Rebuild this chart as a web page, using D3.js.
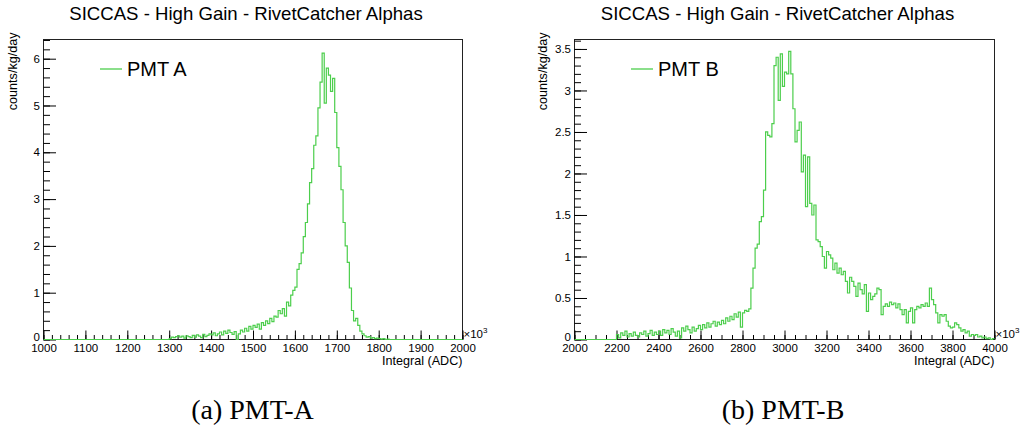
<!DOCTYPE html>
<html><head><meta charset="utf-8">
<script src="https://cdn.jsdelivr.net/npm/d3@7"></script>
<style>body{margin:0;background:#fff}svg{display:block}</style>
</head><body>
<svg id="c" width="1023" height="426"></svg>
<script>
// ---------- data ----------
const chartTitle = "SICCAS - High Gain - RivetCatcher Alphas";
const yTitle = "counts/kg/day";
const xTitle = "Integral (ADC)";
const xExponent = "3";

// Panel A (PMT A)
const legendA = "PMT A";
const captionA = "(a) PMT-A";
const xRangeA = [1000, 2000];
const binWidthA = 5;
const firstBinA = 1300;
const yMaxA = 6.41;
const xTicksA = [1000, 1100, 1200, 1300, 1400, 1500, 1600, 1700, 1800, 1900, 2000];
const yTicksA = [0, 1, 2, 3, 4, 5, 6];
const countsA = [
  0.02,0.05,0.04,0.06,0.08,0.05,0.07,0.03,0.08,0.06,
  0.04,0.09,0.05,0.10,0.07,0.04,0.11,0.06,0.09,0.12,
  0.10,0.14,0.08,0.12,0.16,0.10,0.18,0.13,0.20,0.15,
  0.11,0.17,0.00,0.12,0.20,0.16,0.24,0.18,0.28,0.22,
  0.30,0.26,0.33,0.22,0.36,0.30,0.40,0.34,0.45,0.38,
  0.50,0.48,0.62,0.55,0.66,0.50,0.80,0.72,0.95,1.05,
  1.12,1.50,1.62,1.85,2.20,2.50,2.90,3.35,3.65,4.15,
  4.35,4.95,5.50,6.12,5.05,5.80,5.65,5.30,5.58,4.85,
  4.10,3.70,3.20,2.50,2.00,1.65,1.10,0.62,0.40,0.45,
  0.30,0.18,0.12,0.08,0.05,0.06,0.03,0.04,0.02,0.03,
  0.02,0.01,0.02,0.00,0.01
];

// Panel B (PMT B)
const legendB = "PMT B";
const captionB = "(b) PMT-B";
const xRangeB = [2000, 4000];
const binWidthB = 10;
const firstBinB = 2200;
const yMaxB = 3.614;
const xTicksB = [2000, 2200, 2400, 2600, 2800, 3000, 3200, 3400, 3600, 3800, 4000];
const yTicksB = [0, 0.5, 1, 1.5, 2, 2.5, 3, 3.5];
const countsB = [
  0.06,0.02,0.08,0.05,0.10,0.03,0.07,0.04,0.09,0.05,
  0.03,0.08,0.06,0.10,0.04,0.07,0.11,0.05,0.09,0.06,
  0.10,0.05,0.12,0.08,0.11,0.06,0.13,0.09,0.04,0.10,
  0.02,0.14,0.10,0.16,0.12,0.08,0.15,0.10,0.13,0.17,
  0.12,0.18,0.14,0.20,0.15,0.19,0.22,0.16,0.21,0.18,
  0.23,0.19,0.26,0.22,0.28,0.24,0.31,0.27,0.33,0.15,
  0.32,0.35,0.34,0.37,0.62,0.86,1.10,1.15,1.42,1.48,
  1.80,2.50,2.46,2.44,2.60,3.30,3.40,2.88,3.44,3.05,
  3.22,3.20,3.47,3.20,2.78,2.38,2.52,2.62,2.02,2.22,
  1.60,2.20,1.64,1.50,1.62,1.20,1.18,1.12,1.00,0.86,
  1.06,1.02,0.98,0.84,0.92,0.80,0.86,0.78,0.82,0.70,
  0.56,0.75,0.70,0.64,0.52,0.68,0.60,0.55,0.66,0.34,
  0.56,0.48,0.52,0.55,0.62,0.60,0.30,0.40,0.43,0.40,
  0.45,0.42,0.44,0.38,0.43,0.36,0.30,0.36,0.20,0.34,
  0.38,0.20,0.36,0.40,0.38,0.42,0.40,0.44,0.40,0.62,
  0.48,0.42,0.32,0.20,0.30,0.28,0.30,0.22,0.16,0.14,
  0.15,0.20,0.18,0.14,0.10,0.12,0.08,0.10,0.04,0.06,
  0.05,0.06,0.03,0.04,0.02,0.03,0.01,0.02,0.00,0.01
];

// ---------- drawing ----------
const SANS = "'Liberation Sans', Arial, Helvetica, sans-serif";
const SERIF = "'Liberation Serif', 'Times New Roman', serif";
const GREEN = "#4cce4c";
const svg = d3.select("#c");

function panel(o) {
  const g = svg.append("g");
  const x = d3.scaleLinear().domain(o.xRange).range([o.left, o.right]);
  const y = d3.scaleLinear().domain([0, o.yMax]).range([o.bottom, o.top]);

  // title
  g.append("text").attr("x", o.titleX).attr("y", 20).attr("text-anchor", "middle")
    .attr("font-family", SANS).attr("font-size", 18.6).attr("fill", "#000").text(chartTitle);

  // frame
  g.append("rect").attr("x", o.left).attr("y", o.top)
    .attr("width", o.right - o.left).attr("height", o.bottom - o.top)
    .attr("fill", "none").attr("stroke", "#222").attr("stroke-width", 1);

  // x axis
  const xMinor = x.ticks(50);
  const xaMinor = d3.axisBottom(x).tickValues(xMinor).tickSize(-4.5).tickFormat("");
  g.append("g").attr("transform", `translate(0,${o.bottom})`).call(xaMinor)
    .call(s => s.select(".domain").remove());
  const xa = d3.axisBottom(x).tickValues(o.xTicks).tickSize(-9).tickPadding(4).tickFormat(d3.format("d"));
  g.append("g").attr("transform", `translate(0,${o.bottom})`).call(xa)
    .call(s => s.select(".domain").remove())
    .call(s => s.selectAll("text").attr("font-family", SANS).attr("font-size", 11.5).attr("fill", "#000"));

  // y axis
  const yMinor = y.ticks(o.yMinorCount);
  const yaMinor = d3.axisLeft(y).tickValues(yMinor).tickSize(-6.5).tickFormat("");
  g.append("g").attr("transform", `translate(${o.left},0)`).call(yaMinor)
    .call(s => s.select(".domain").remove());
  const ya = d3.axisLeft(y).tickValues(o.yTicks).tickSize(-12.5).tickPadding(3.5)
    .tickFormat(d3.format("~g"));
  g.append("g").attr("transform", `translate(${o.left},0)`).call(ya)
    .call(s => s.select(".domain").remove())
    .call(s => s.selectAll("text").attr("font-family", SANS).attr("font-size", 11.5).attr("fill", "#000"))
    .call(s => s.selectAll(".tick").filter(d => d === 0).select("text").attr("y", -3));

  // axis titles
  g.append("text").attr("x", o.right).attr("y", 365).attr("text-anchor", "end")
    .attr("font-family", SANS).attr("font-size", 12.6).attr("fill", "#000").text(xTitle);
  g.append("text").attr("transform", `translate(${o.yTitleX},${o.top - 7}) rotate(-90)`)
    .attr("text-anchor", "end").attr("font-family", SANS).attr("font-size", 12.6)
    .attr("fill", "#000").text(yTitle);

  // x10^3
  const ex = g.append("text").attr("x", o.right + 1).attr("y", 338)
    .attr("font-family", SANS).attr("font-size", 11.5).attr("fill", "#000");
  ex.append("tspan").text("\u00d710");
  ex.append("tspan").attr("dy", -5).attr("font-size", 8).text(xExponent);

  // histogram
  const nBins = Math.round((o.xRange[1] - o.xRange[0]) / o.binWidth);
  const startIdx = Math.round((o.firstBin - o.xRange[0]) / o.binWidth);
  const bins = [];
  for (let i = 0; i < nBins; i++) {
    const j = i - startIdx;
    const v = (j >= 0 && j < o.counts.length) ? o.counts[j] : 0;
    bins.push({ x0: o.xRange[0] + i * o.binWidth, v });
  }
  const pts = bins.map(b => [b.x0, b.v]);
  pts.push([o.xRange[1], bins[bins.length - 1].v]);
  const line = d3.line().x(d => x(d[0])).y(d => y(d[1])).curve(d3.curveStepAfter);
  g.append("path").attr("d", line(pts)).attr("fill", "none")
    .attr("stroke", GREEN).attr("stroke-width", 1.2);

  // legend
  g.append("line").attr("x1", o.legX).attr("x2", o.legX + 22).attr("y1", 69).attr("y2", 69)
    .attr("stroke", GREEN).attr("stroke-width", 1.3);
  g.append("text").attr("x", o.legX + 27).attr("y", 76).attr("font-family", SANS)
    .attr("font-size", 20).attr("fill", "#000").text(o.legend);

  // caption
  g.append("text").attr("x", o.capX).attr("y", 419).attr("text-anchor", "middle")
    .attr("font-family", SERIF).attr("font-size", 28).attr("fill", "#000").text(o.caption);
}

panel({
  xRange: xRangeA, binWidth: binWidthA, firstBin: firstBinA, counts: countsA,
  yMax: yMaxA, xTicks: xTicksA, yTicks: yTicksA, yMinorCount: 30,
  left: 43.5, right: 462.5, top: 39.5, bottom: 339.5,
  titleX: 246, yTitleX: 16.5, legX: 100, legend: legendA, capX: 252.5, caption: captionA
});
panel({
  xRange: xRangeB, binWidth: binWidthB, firstBin: firstBinB, counts: countsB,
  yMax: yMaxB, xTicks: xTicksB, yTicks: yTicksB, yMinorCount: 36,
  left: 574.5, right: 994.5, top: 39.5, bottom: 339.5,
  titleX: 777.5, yTitleX: 547, legX: 631, legend: legendB, capX: 783, caption: captionB
});
</script>
</body></html>
